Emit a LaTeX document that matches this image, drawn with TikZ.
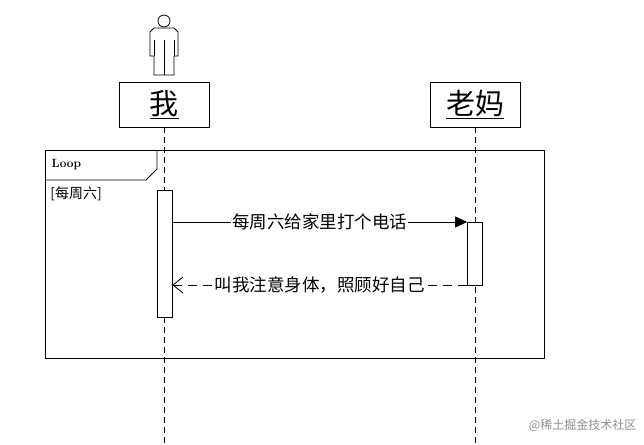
\documentclass[tikz,border=0pt]{standalone}
\usepackage{fontspec}
\newfontfamily\cjk{Noto Sans CJK SC}
\usetikzlibrary{arrows.meta,positioning}
\tikzset{
  box/.style={draw, line width=0.9pt, minimum width=90pt, minimum height=45pt, inner sep=0pt, font=\cjk\fontsize{29}{31}\selectfont},
  act/.style={draw, fill=white, line width=0.7pt, minimum width=15pt, inner sep=0pt},
  life/.style={dash pattern=on 6pt off 4pt, line width=0.7pt},
  msg/.style={font=\cjk\fontsize{17.5}{19}\selectfont, fill=white, inner sep=1pt}
}
\begin{document}
\begin{tikzpicture}[x=1pt, y=-1pt, line width=0.8pt]
  \useasboundingbox (0,0) rectangle (644,444);
  % actor
  \draw (164,21) circle (6);
  \draw (164,28) -- (154,28) -- (150,32) -- (150,56) -- (154,56) -- (154,75) -- (174,75) -- (174,56) -- (178,56) -- (178,32) -- (174,28) -- cycle;
  \draw (164,40) -- (164,75);
  \draw (154,40) -- (154,56) (174,40) -- (174,56);
  % participants
  \node[box] (me) at (164,104.5) {\underline{我}};
  \node[box] (mom) at (475,104.5) {\underline{老妈}};
  \coordinate (meEnd) at (164,444);
  \coordinate (momEnd) at (475,444);
  \draw[life] (me.south) -- (meEnd);
  \draw[life] (mom.south) -- (momEnd);
  % loop frame
  \draw (45,150) rectangle (544,358);
  \draw (45,180) -- (146,180) -- (157,169) -- (157,150);
  \node[anchor=west, font=\bfseries\fontsize{12}{13}\selectfont] (loop) at (48,165) {Loop};
  \node[anchor=west, font=\cjk\fontsize{14}{16}\selectfont, inner sep=0pt] (cond) at (50,194) {[每周六]};
  % activations
  \node[act, minimum height=127pt, anchor=north] (meAct) at (164.5,190) {};
  \node[act, minimum height=63pt, anchor=north] (momAct) at (475,222) {};
  % messages
  \coordinate (m1s) at (meAct.east |- 0,222);
  \coordinate (m2e) at (momAct.west |- 0,285);
  \coordinate (m2s) at (meAct.east |- 0,285);
  \draw[-{Triangle[length=12pt,width=11pt]}] (m1s) -- node[msg, pos=0.5] (call) {每周六给家里打个电话} (momAct.north west);
  \draw[dash pattern=on 9pt off 6pt, -{Straight Barb[length=10pt,width=16pt]}] (m2e) -- node[msg, pos=0.5] (reply) {叫我注意身体，照顾好自己} (m2s);
  \node[anchor=east, text=black!45, font=\cjk\fontsize{12}{13}\selectfont] (wm) at (640,425) {@稀土掘金技术社区};
\end{tikzpicture}
\end{document}
